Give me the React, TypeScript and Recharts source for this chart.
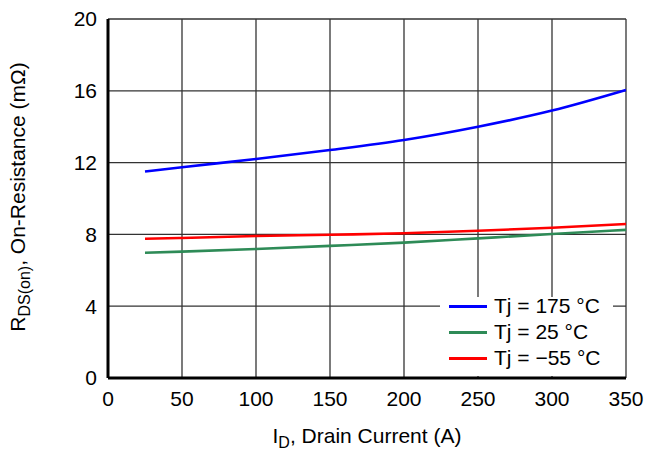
import React from 'react';
import { LineChart, Line, XAxis, YAxis, CartesianGrid, Legend } from 'recharts';

// drain current (A)
const current = [25, 50, 100, 150, 200, 250, 300, 350];
// on-resistance (mOhm) per junction temperature
const r175 = [11.5, 11.74, 12.2, 12.7, 13.26, 14.0, 14.9, 16.05];
const r25 = [6.98, 7.04, 7.19, 7.36, 7.54, 7.78, 8.02, 8.25];
const rMinus55 = [7.76, 7.8, 7.91, 7.98, 8.06, 8.2, 8.37, 8.58];

const xTicks = [0, 50, 100, 150, 200, 250, 300, 350];
const yTicks = [0, 4, 8, 12, 16, 20];

const series = [
  { key: 't175', name: 'Tj = 175 °C', color: '#0000ff' },
  { key: 't25', name: 'Tj = 25 °C', color: '#2e8b57' },
  { key: 'tm55', name: 'Tj = −55 °C', color: '#ff0000' },
];

const data = current.map((id, i) => ({
  id,
  t175: r175[i],
  t25: r25[i],
  tm55: rMinus55[i],
}));

const FONT = '"Liberation Sans", Arial, Helvetica, sans-serif';

const LegendBox = () => (
  <div style={{ position: 'relative', width: 173, height: 83, fontFamily: FONT, fontSize: 21, color: '#000' }}>
    <div style={{ position: 'absolute', left: 0, right: 0, top: 4, bottom: 0, background: '#fff' }} />
    {series.map((s) => (
      <div key={s.key} style={{ position: 'relative', display: 'flex', alignItems: 'center', height: 26 }}>
        <span style={{ display: 'inline-block', width: 38, borderTop: `3px solid ${s.color}`, marginLeft: 9, marginRight: 7 }} />
        <span>{s.name}</span>
      </div>
    ))}
  </div>
);

export default function App() {
  return (
    <div style={{ position: 'absolute', left: 0, top: 0, width: 649, height: 451, background: '#fff', fontFamily: FONT }}>
      <LineChart width={649} height={451} data={data} margin={{ top: 19, right: 23, bottom: 0, left: 0 }}>
        <CartesianGrid stroke="#333" strokeWidth={1.3} />
        <XAxis
          dataKey="id"
          type="number"
          domain={[0, 350]}
          ticks={xTicks}
          height={73}
          tickLine={false}
          tickSize={0}
          tickMargin={13}
          axisLine={{ stroke: '#000', strokeWidth: 3 }}
          tick={{ fill: '#000', fontSize: 21, fontFamily: FONT }}
        />
        <YAxis
          type="number"
          domain={[0, 20]}
          ticks={yTicks}
          width={108}
          tickLine={false}
          tickSize={0}
          tickMargin={11}
          axisLine={{ stroke: '#000', strokeWidth: 3 }}
          tick={{ fill: '#000', fontSize: 21, fontFamily: FONT }}
        />
        {series.map((s) => (
          <Line
            key={s.key}
            type="monotone"
            dataKey={s.key}
            name={s.name}
            stroke={s.color}
            strokeWidth={2.6}
            dot={false}
            isAnimationActive={false}
          />
        ))}
        <Legend
          layout="vertical"
          align="center"
          verticalAlign="middle"
          content={() => <LegendBox />}
          wrapperStyle={{ left: 440, top: 293, width: 173, height: 83 }}
        />
        <text transform="translate(25,197) rotate(-90)" textAnchor="middle" fontSize={21} fontFamily={FONT} fill="#000">
          R<tspan fontSize={16} dy={5}>DS(on)</tspan>
          <tspan dy={-5}>, On-Resistance (mΩ)</tspan>
        </text>
        <text x={367} y={443} textAnchor="middle" fontSize={21} fontFamily={FONT} fill="#000">
          I<tspan fontSize={16} dy={5}>D</tspan>
          <tspan dy={-5}>, Drain Current (A)</tspan>
        </text>
      </LineChart>
    </div>
  );
}
